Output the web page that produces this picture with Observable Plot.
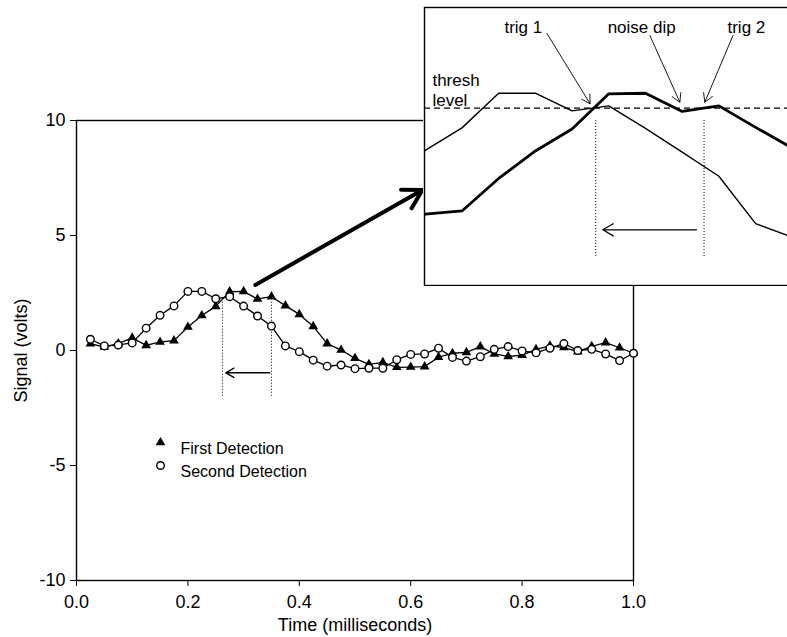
<!DOCTYPE html>
<html><head><meta charset="utf-8">
<script src="https://cdn.jsdelivr.net/npm/d3@7"></script>
<script src="https://cdn.jsdelivr.net/npm/@observablehq/plot@0.6"></script>
<style>
html,body{margin:0;padding:0;background:#fff;overflow:hidden;width:787px;height:637px}
#wrap{position:relative;width:787px;height:637px;overflow:hidden;background:#fff}
#main{position:absolute;left:0;top:0;width:787px;height:637px}
#inset{position:absolute;left:423px;top:6px;width:382px;height:280px}
svg{display:block;max-width:none !important}
</style></head><body><div id="wrap"><div id="main"></div><div id="inset"></div></div>
<script>
// ---- data ----
const time = [0.025,0.05,0.075,0.1,0.125,0.15,0.175,0.2,0.225,0.25,0.275,0.3,0.325,0.35,0.375,0.4,0.425,0.45,0.475,0.5,0.525,0.55,0.575,0.6,0.625,0.65,0.675,0.7,0.725,0.75,0.775,0.8,0.825,0.85,0.875,0.9,0.925,0.95,0.975,1.0];
const firstDetection = [0.3,0.15,0.3,0.55,0.22,0.37,0.43,1.02,1.52,1.92,2.56,2.57,2.24,2.34,1.95,1.57,1.05,0.3,0.02,-0.34,-0.6,-0.52,-0.73,-0.72,-0.7,-0.29,-0.12,-0.08,0.17,-0.15,-0.26,-0.2,0.05,0.2,0.13,-0.05,0.18,0.34,0.12,-0.12];
const secondDetection = [0.49,0.2,0.24,0.33,0.97,1.53,1.94,2.57,2.57,2.25,2.34,1.93,1.5,1.06,0.2,-0.05,-0.42,-0.68,-0.63,-0.79,-0.77,-0.77,-0.4,-0.17,-0.15,0.1,-0.3,-0.46,-0.27,0.05,0.17,-0.02,-0.1,0.1,0.3,0.0,0.05,-0.15,-0.44,-0.12];
const seriesNames = ["First Detection","Second Detection"];
const xTicks = [0,0.2,0.4,0.6,0.8,1.0];
const yTicks = [-10,-5,0,5,10];
const xLabel = "Time (milliseconds)";
const yLabel = "Signal (volts)";
// annotations
const threshLevel = 2.3;
const mainTrigTimes = [0.262, 0.35];
const mainTrigSpan = [2.1, -2.0];
const mainShift = [{x1:0.347, x2:0.268, y:-0.97}];
const zoomArrow = [{x1:0.321, y1:2.85, x2:0.621, y2:6.98}];
const insetDomainX = [0.1495, 0.4083];
const insetDomainY = [-0.926, 4.129];
const insetTrigTimes = [0.2661, 0.3399];
const insetTrigSpan = [2.075, -0.416];
const insetShift = [{x1:0.3348, x2:0.2709, y:0.087}];
const insetTopLabels = [
  {text:"trig 1", x:0.2168, y:3.77},
  {text:"noise dip", x:0.2974, y:3.77},
  {text:"trig 2", x:0.3687, y:3.77}
];
const insetSideLabels = [
  {text:"thresh", x:0.1549, y:2.80},
  {text:"level", x:0.1549, y:2.44}
];
const insetPointers = [
  {x1:0.2329, y1:3.656, x2:0.2623, y2:2.378},
  {x1:0.3030, y1:3.62, x2:0.3234, y2:2.407},
  {x1:0.3596, y1:3.62, x2:0.3404, y2:2.407}
];

// ---- table ----
const rows = time.flatMap((t, i) => [
  {t, v: firstDetection[i], s: seriesNames[0]},
  {t, v: secondDetection[i], s: seriesNames[1]}
]);
const rowsFirst = rows.filter(d => d.s === seriesNames[0]);
const rowsSecond = rows.filter(d => d.s === seriesNames[1]);

const font = "'Liberation Sans', Arial, Helvetica, sans-serif";

const main = Plot.plot({
  width: 787, height: 637,
  marginLeft: 76, marginRight: 154, marginTop: 120, marginBottom: 57,
  style: {fontFamily: font, fontSize: "18px", color: "#000", background: "#fff", overflow: "visible"},
  x: {domain: [0, 1], ticks: xTicks, tickFormat: d => d.toFixed(1), tickSize: 6, tickPadding: 9,
      label: xLabel, labelAnchor: "center", labelArrow: false, labelOffset: 50},
  y: {domain: [-10, 10], ticks: yTicks, tickFormat: d => String(d), tickSize: 6, tickPadding: 5,
      label: yLabel, labelAnchor: "center", labelArrow: false, labelOffset: 62},
  marks: [
    Plot.frame({stroke: "#000", strokeWidth: 1.4}),
    Plot.ruleX(mainTrigTimes, {y1: mainTrigSpan[0], y2: mainTrigSpan[1], stroke: "#000", strokeWidth: 1, strokeDasharray: "1,2"}),
    Plot.arrow(mainShift, {x1: "x1", x2: "x2", y1: "y", y2: "y", stroke: "#000", strokeWidth: 1.4, headLength: 10}),
    Plot.line(rows, {x: "t", y: "v", z: "s", stroke: "#000", strokeWidth: 1.3}),
    Plot.dot(rowsFirst, {x: "t", y: "v", symbol: "triangle", fill: "#000", r: 3.6}),
    Plot.dot(rowsSecond, {x: "t", y: "v", symbol: "circle", fill: "#fff", stroke: "#000", strokeWidth: 1.4, r: 3.8}),
    Plot.arrow(zoomArrow, {x1: "x1", y1: "y1", x2: "x2", y2: "y2", stroke: "#000", strokeWidth: 4, headLength: 8}),
    // legend
    Plot.dot([seriesNames[0]], {frameAnchor: "top-left", dx: 84, dy: 322, symbol: "triangle", fill: "#000", r: 3.6}),
    Plot.dot([seriesNames[1]], {frameAnchor: "top-left", dx: 84, dy: 345, symbol: "circle", fill: "#fff", stroke: "#000", strokeWidth: 1.4, r: 3.8}),
    Plot.text([seriesNames[0]], {text: d => d, frameAnchor: "top-left", dx: 104, dy: 322, textAnchor: "start", fontSize: 16, fill: "#000"}),
    Plot.text([seriesNames[1]], {text: d => d, frameAnchor: "top-left", dx: 104, dy: 345, textAnchor: "start", fontSize: 16, fill: "#000"})
  ]
});
document.getElementById("main").append(main);

const inset = Plot.plot({
  width: 382, height: 280, margin: 1,
  style: {fontFamily: font, fontSize: "17px", color: "#000", background: "#fff"},
  x: {domain: insetDomainX, axis: null},
  y: {domain: insetDomainY, axis: null},
  marks: [
    Plot.frame({stroke: "#000", strokeWidth: 1.4, fill: "#fff"}),
    Plot.ruleY([threshLevel], {stroke: "#000", strokeWidth: 1.2, strokeDasharray: "6,4"}),
    Plot.line(rowsSecond, {x: "t", y: "v", stroke: "#000", strokeWidth: 1.4, clip: true}),
    Plot.line(rowsFirst, {x: "t", y: "v", stroke: "#000", strokeWidth: 2.8, clip: true}),
    Plot.ruleX(insetTrigTimes, {y1: insetTrigSpan[0], y2: insetTrigSpan[1], stroke: "#000", strokeWidth: 1, strokeDasharray: "1,2"}),
    Plot.arrow(insetShift, {x1: "x1", x2: "x2", y1: "y", y2: "y", stroke: "#000", strokeWidth: 1.3, headLength: 14}),
    Plot.arrow(insetPointers, {x1: "x1", y1: "y1", x2: "x2", y2: "y2", stroke: "#000", strokeWidth: 0.9, headLength: 16}),
    Plot.text(insetTopLabels, {x: "x", y: "y", text: "text", textAnchor: "middle", fill: "#000", fontSize: 17}),
    Plot.text(insetSideLabels, {x: "x", y: "y", text: "text", textAnchor: "start", fill: "#000", fontSize: 17})
  ]
});
document.getElementById("inset").append(inset);
</script></body></html>
